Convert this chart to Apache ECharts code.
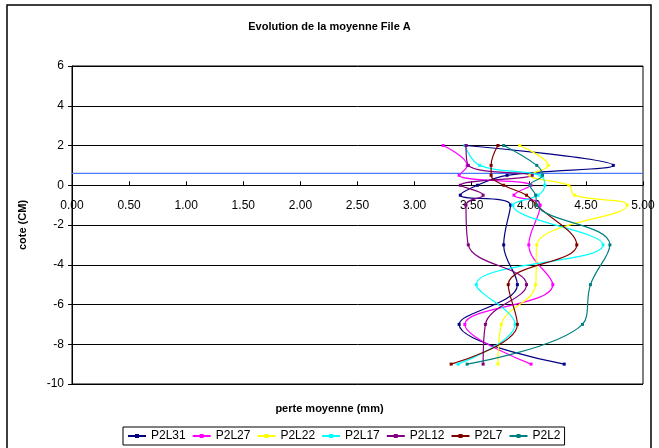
<!DOCTYPE html>
<html><head><meta charset="utf-8">
<script src="https://cdn.jsdelivr.net/npm/echarts@6/dist/echarts.min.js"></script>
<style>html,body{margin:0;padding:0;background:#fff}#c{width:659px;height:448px}</style>
</head><body><div id="c"></div>
<script>
var cote = [2, 1, 0.5, 0, -0.5, -1, -3, -5, -7, -9];
var seriesNames = ['P2L31','P2L27','P2L22','P2L17','P2L12','P2L7','P2L2'];
var P2L31 = [3.45, 4.74, 3.81, 3.55, 3.40, 3.84, 3.78, 3.90, 3.39, 4.31];
var P2L27 = [3.25, 3.46, 3.39, 4.02, 3.87, 4.10, 4.00, 4.21, 3.44, 4.02];
var P2L22 = [3.92, 4.17, 4.01, 4.35, 4.40, 4.86, 4.07, 4.06, 3.76, 3.73];
var P2L17 = [3.44, 3.57, 4.10, 4.14, 4.08, 3.86, 4.65, 3.54, 3.88, 3.38];
var P2L12 = [3.45, 3.47, 4.03, 3.40, 3.60, 3.45, 3.47, 3.98, 3.62, 3.60];
var P2L7  = [3.73, 3.67, 3.67, 3.78, 3.98, 4.07, 4.42, 3.82, 3.90, 3.32];
var P2L2  = [3.78, 4.07, 4.12, 4.01, 4.06, 4.07, 4.71, 4.54, 4.47, 3.46];
var refX = [0, 5];
var refY = [0.6, 0.6];
var colors = ['#000080','#FF00FF','#FFFF00','#00FFFF','#800080','#800000','#008080'];
var values = [P2L31, P2L27, P2L22, P2L17, P2L12, P2L7, P2L2];

var font = 'Liberation Sans, Arial, sans-serif';
var chart = echarts.init(document.getElementById('c'), null, {renderer:'canvas'});
var series = seriesNames.map(function(n, i){
  return {
    name: n, type: 'line', smooth: 0.4, symbol: 'rect', symbolSize: 3,
    color: colors[i], lineStyle: {width: 1.2, color: colors[i]},
    itemStyle: {color: colors[i]},
    data: values[i].map(function(v, j){ return [v, cote[j]]; }),
    z: 3
  };
});
series.push({
  name: 'ref', type: 'line', symbol: 'none', silent: true,
  lineStyle: {width: 1.2, color: '#4A78FF'},
  data: refX.map(function(v, j){ return [v, refY[j]]; }), z: 2
});
chart.setOption({
  animation: false,
  textStyle: {fontFamily: font, color: '#000'},
  title: {text: 'Evolution de la moyenne File A', left: 'center', top: 16,
    textStyle: {fontSize: 11, fontWeight: 'bold', color: '#000', fontFamily: font}},
  graphic: [
    {type: 'rect', shape: {x: 7, y: 5, width: 644, height: 460},
     style: {fill: 'none', stroke: '#000', lineWidth: 1.5}, z: -1},
    {type: 'text', left: 'center', top: 403,
     style: {text: 'perte moyenne (mm)', font: 'bold 11px ' + font, fill: '#000'}}
  ],
  legend: {
    data: seriesNames, left: 123, top: 427, orient: 'horizontal',
    borderColor: '#000', borderWidth: 1, padding: [3, 4, 3, 4],
    itemWidth: 18, itemHeight: 5, itemGap: 6,
    textStyle: {fontSize: 12, color: '#000', fontFamily: font}
  },
  grid: [
    {left: 72, top: 66, right: 16, bottom: 64, show: true,
     borderColor: '#000', borderWidth: 1, backgroundColor: 'transparent'},
    {left: 72, top: 66, right: 16, height: 120, show: false}
  ],
  xAxis: [{
    type: 'value', min: 0, max: 5, interval: 0.5, gridIndex: 0,
    axisLine: {onZero: true, lineStyle: {color: '#000', width: 1}},
    axisTick: {inside: true, length: 4, lineStyle: {color: '#000'}},
    axisLabel: {show: false},
    splitLine: {show: false}
  }, {
    type: 'value', min: 0, max: 5, interval: 0.5, gridIndex: 1, position: 'bottom',
    axisLine: {show: false}, axisTick: {show: false},
    axisLabel: {formatter: function(v){ return v.toFixed(2); }, fontSize: 12, color: '#000', margin: 14, fontFamily: font},
    splitLine: {show: false}
  }],
  yAxis: [{
    type: 'value', min: -10, max: 6, interval: 2, gridIndex: 0,
    name: 'cote (CM)', nameLocation: 'middle', nameGap: 44,
    nameTextStyle: {fontSize: 11, fontWeight: 'bold', color: '#000', fontFamily: font},
    axisLine: {show: true, onZero: false, lineStyle: {color: '#000', width: 1}},
    axisTick: {show: true, length: 4, lineStyle: {color: '#000'}},
    axisLabel: {fontSize: 12, color: '#000', margin: 8, fontFamily: font},
    splitLine: {show: true, lineStyle: {color: '#000', width: 1}}
  }, {
    type: 'value', min: 0, max: 6, gridIndex: 1, show: false
  }],
  series: series
});
</script></body></html>
